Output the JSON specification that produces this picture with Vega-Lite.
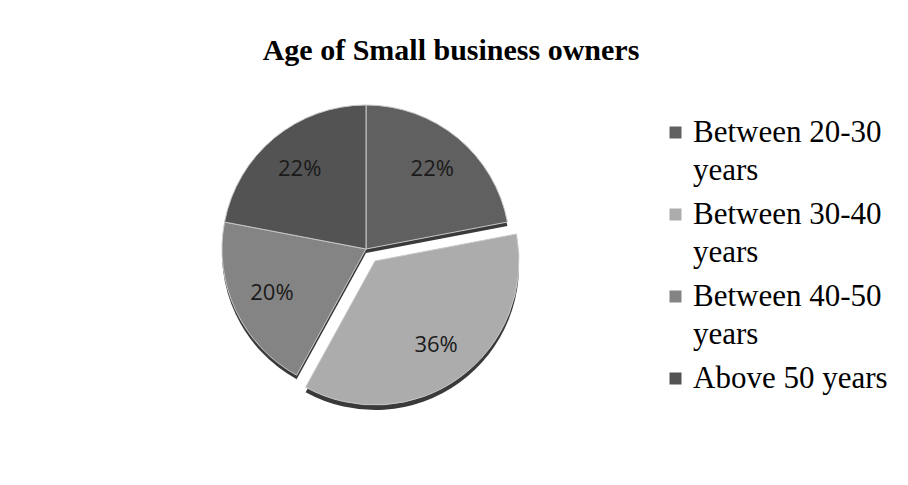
{
  "$schema": "https://vega.github.io/schema/vega-lite/v6.json",
  "autosize": {"type": "none"},
  "width": 732,
  "height": 340,
  "padding": {"top": 79, "left": 0, "right": 176, "bottom": 66},
  "background": "white",
  "config": {
    "view": {"stroke": null},
    "style": {"guide-label": {"lineHeight": 38}}
  },
  "title": {
    "text": "Age of Small business owners",
    "font": "Liberation Serif",
    "fontSize": 30,
    "fontWeight": "bold",
    "color": "#000000",
    "anchor": "middle",
    "baseline": "alphabetic",
    "offset": -11,
    "dx": 85
  },
  "data": {
    "values": [
      {"category": "Between 20-30 years", "value": 22, "ord": 1, "label": "22%"},
      {"category": "Between 30-40 years", "value": 36, "ord": 2, "label": "36%"},
      {"category": "Between 40-50 years", "value": 20, "ord": 3, "label": "20%"},
      {"category": "Above 50 years", "value": 22, "ord": 4, "label": "22%"}
    ]
  },
  "encoding": {
    "theta": {"field": "value", "type": "quantitative", "stack": true},
    "order": {"field": "ord", "type": "quantitative"}
  },
  "layer": [
    {
      "mark": {"type": "arc", "outerRadius": 144, "yOffset": 4, "fill": "#3a3a3a"},
      "encoding": {
        "opacity": {"condition": {"test": "datum.category == 'Between 30-40 years'", "value": 0}, "value": 1}
      }
    },
    {
      "mark": {"type": "arc", "outerRadius": 144, "xOffset": 9, "yOffset": 17, "fill": "#3a3a3a"},
      "encoding": {
        "opacity": {"condition": {"test": "datum.category == 'Between 30-40 years'", "value": 1}, "value": 0}
      }
    },
    {
      "mark": {"type": "arc", "outerRadius": 144, "stroke": "#c8c8c8", "strokeWidth": 1},
      "encoding": {
        "color": {
          "field": "category",
          "type": "nominal",
          "sort": ["Between 20-30 years", "Between 30-40 years", "Between 40-50 years", "Above 50 years"],
          "scale": {
            "domain": ["Between 20-30 years", "Between 30-40 years", "Between 40-50 years", "Above 50 years"],
            "range": ["#606060", "#acacac", "#848484", "#535353"]
          },
          "legend": {
            "title": null,
            "orient": "none",
            "legendX": 660,
            "legendY": 38,
            "symbolType": "square",
            "symbolSize": 144,
            "symbolStrokeWidth": 0,
            "labelFont": "Liberation Serif",
            "labelFontSize": 31,
            "labelColor": "#000000",
            "labelOffset": 2,
            "labelLimit": 300,
            "rowPadding": 12,
            "labelExpr": "datum.label == 'Above 50 years' ? datum.label : [replace(datum.label, ' years', ''), 'years']",
            "labelBaseline": "middle",
            "encode": {"labels": {"update": {"lineHeight": {"value": 38}}}}
          }
        },
        "opacity": {"condition": {"test": "datum.category == 'Between 30-40 years'", "value": 0}, "value": 1}
      }
    },
    {
      "mark": {"type": "arc", "outerRadius": 144, "xOffset": 9, "yOffset": 12, "stroke": "#c8c8c8", "strokeWidth": 1},
      "encoding": {
        "color": {"field": "category", "type": "nominal", "legend": null},
        "opacity": {"condition": {"test": "datum.category == 'Between 30-40 years'", "value": 1}, "value": 0}
      }
    },
    {
      "mark": {"type": "text", "radius": 104, "font": "Open Sans", "fontSize": 22, "color": "#1a1a1a"},
      "encoding": {
        "text": {"field": "label"},
        "opacity": {"condition": {"test": "datum.category == 'Between 30-40 years'", "value": 0}, "value": 1}
      }
    },
    {
      "mark": {"type": "text", "radius": 104, "xOffset": 9, "yOffset": 12, "font": "Open Sans", "fontSize": 22, "color": "#1a1a1a"},
      "encoding": {
        "text": {"field": "label"},
        "opacity": {"condition": {"test": "datum.category == 'Between 30-40 years'", "value": 1}, "value": 0}
      }
    }
  ]
}
